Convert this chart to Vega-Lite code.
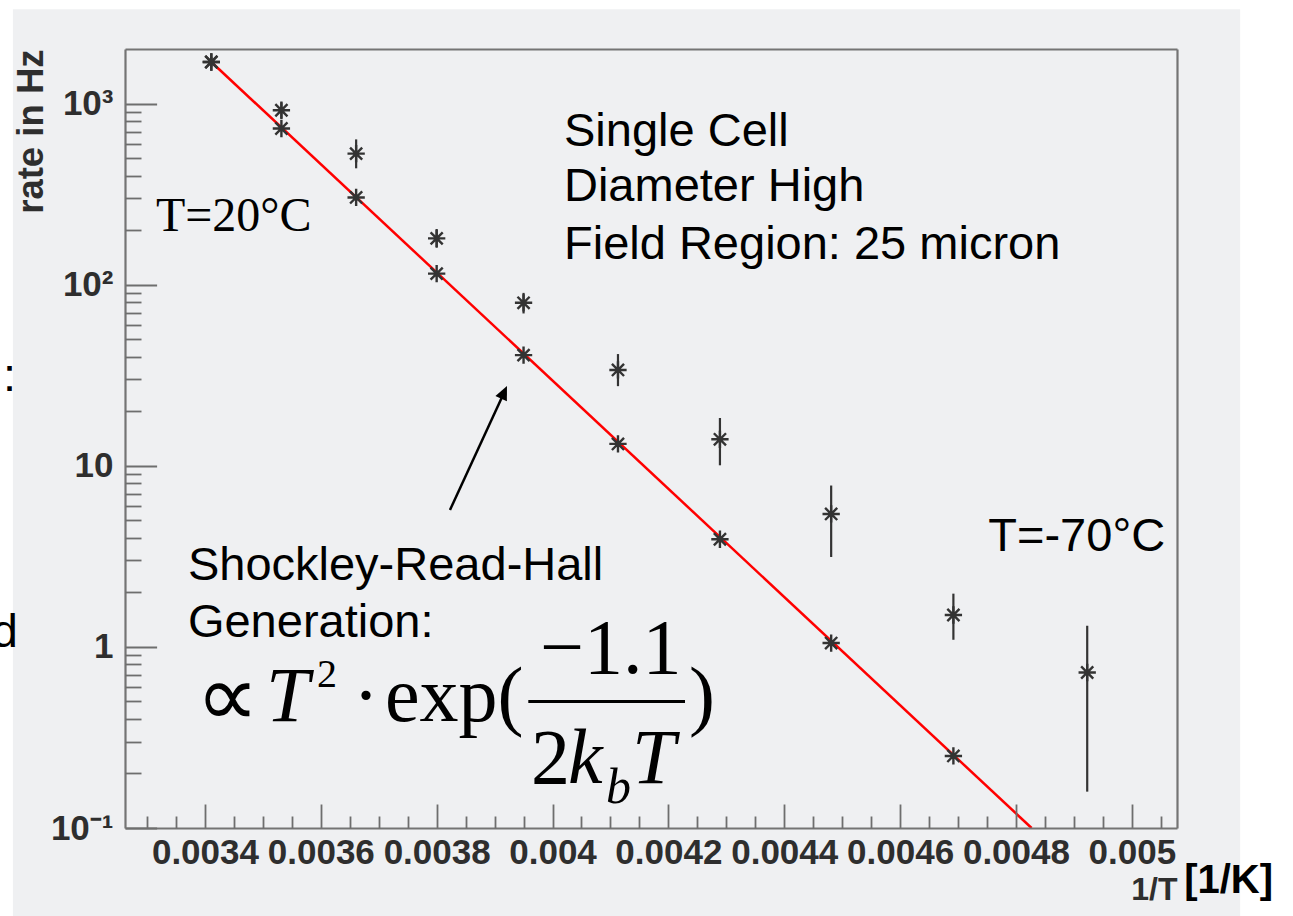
{
  "$schema": "https://vega.github.io/schema/vega-lite/v6.json",
  "width": 1052,
  "height": 779,
  "autosize": {"type": "none"},
  "padding": {"left": 125, "top": 49, "right": 116, "bottom": 88},
  "background": "#eff0f2",
  "config": {
    "view": {"stroke": null},
    "axis": {
      "zindex": 1, "grid": false,
      "domainColor": "#747474", "domainWidth": 2.2,
      "tickColor": "#6e6e6e", "tickWidth": 1.8,
      "labelFont": "Liberation Sans", "labelFontWeight": "bold", "labelFontSize": 35, "labelColor": "#2e2e2e",
      "titleFont": "Liberation Sans", "titleFontWeight": "bold", "titleFontSize": 36.5, "titleColor": "#2e2e2e",
      "labelFlush": false, "labelOverlap": false, "labelBound": false
    }
  },
  "datasets": {
    "pts": [
      {"invT": 0.003411, "rate": 1696, "set": "low"},
      {"invT": 0.003532, "rate": 728, "set": "low"},
      {"invT": 0.003661, "rate": 303, "set": "low"},
      {"invT": 0.0038, "rate": 115, "set": "low"},
      {"invT": 0.00395, "rate": 40.8, "set": "low"},
      {"invT": 0.004113, "rate": 13.2, "set": "low"},
      {"invT": 0.004289, "rate": 3.93, "set": "low"},
      {"invT": 0.004481, "rate": 1.05, "set": "low"},
      {"invT": 0.004692, "rate": 0.25, "set": "low"},
      {"invT": 0.003411, "rate": 1696, "lo": 1620, "hi": 1780, "set": "high"},
      {"invT": 0.003532, "rate": 918, "lo": 840, "hi": 1000, "set": "high"},
      {"invT": 0.003661, "rate": 529, "lo": 445, "hi": 625, "set": "high"},
      {"invT": 0.0038, "rate": 180, "lo": 162, "hi": 200, "set": "high"},
      {"invT": 0.00395, "rate": 79.4, "lo": 70.3, "hi": 88.8, "set": "high"},
      {"invT": 0.004113, "rate": 33.8, "lo": 27.9, "hi": 40.8, "set": "high"},
      {"invT": 0.004289, "rate": 14.0, "lo": 10.2, "hi": 18.1, "set": "high"},
      {"invT": 0.004481, "rate": 5.42, "lo": 3.18, "hi": 7.67, "set": "high"},
      {"invT": 0.004692, "rate": 1.5, "lo": 1.11, "hi": 1.94, "set": "high"},
      {"invT": 0.004923, "rate": 0.722, "lo": 0.161, "hi": 1.29, "set": "high"}
    ],
    "fit": [
      {"invT": 0.003411, "rate": 1696},
      {"invT": 0.004827, "rate": 0.1}
    ],
    "sans_left": [
      {"invT": 0.0040198, "rate": 583.6, "text": "Single Cell"},
      {"invT": 0.0040198, "rate": 290.9, "text": "Diameter High"},
      {"invT": 0.0040198, "rate": 137.8, "text": "Field Region: 25 micron"},
      {"invT": 0.0033706, "rate": 2.344, "text": "Shockley-Read-Hall"},
      {"invT": 0.0033706, "rate": 1.129, "text": "Generation:"},
      {"invT": 0.0030512, "rate": 25.86, "text": ":"}
    ],
    "sans_right": [
      {"invT": 0.0050575, "rate": 3.388, "text": "T=-70°C"},
      {"invT": 0.0030771, "rate": 1.0, "text": "d"}
    ],
    "serif_main": [
      {"invT": 0.0037108, "rate": 0.388, "text": "exp("},
      {"invT": 0.0036555, "rate": 0.388, "text": "·"},
      {"invT": 0.0039784, "rate": 0.7165, "text": "−1.1"},
      {"invT": 0.0039629, "rate": 0.1778, "text": "2"},
      {"invT": 0.0042357, "rate": 0.388, "text": ")"}
    ],
    "serif_italic": [
      {"invT": 0.0035053, "rate": 0.388, "text": "T"},
      {"invT": 0.0040267, "rate": 0.1778, "text": "k"},
      {"invT": 0.0041372, "rate": 0.1778, "text": "T"}
    ]
  },
  "resolve": {"axis": {"x": "independent", "y": "independent"}},
  "layer": [
    {
      "data": {"values": [{}]},
      "mark": {"type": "rect", "fill": "white", "clip": false},
      "encoding": {
        "x": {"datum": 0.0030374, "type": "quantitative", "scale": {"domain": [0.003262, 0.005078], "nice": false, "zero": false}, "axis": null},
        "x2": {"datum": 0.0030685},
        "y": {"datum": 0.02, "type": "quantitative", "scale": {"type": "log", "domain": [0.1, 2000], "nice": false}, "axis": null},
        "y2": {"datum": 5000}
      }
    },
    {
      "data": {"values": [{}]},
      "mark": {"type": "rect", "fill": "white", "clip": false},
      "encoding": {
        "x": {"datum": 0.0030374, "type": "quantitative", "scale": {"domain": [0.003262, 0.005078], "nice": false, "zero": false}, "axis": null},
        "x2": {"datum": 0.0053},
        "y": {"datum": 3314, "type": "quantitative", "scale": {"type": "log", "domain": [0.1, 2000], "nice": false}, "axis": null},
        "y2": {"datum": 5000}
      }
    },
    {
      "data": {"values": [{}]},
      "mark": {"type": "rect", "fill": "white", "clip": false},
      "encoding": {
        "x": {"datum": 0.005187, "type": "quantitative", "scale": {"domain": [0.003262, 0.005078], "nice": false, "zero": false}, "axis": null},
        "x2": {"datum": 0.0053},
        "y": {"datum": 0.02, "type": "quantitative", "scale": {"type": "log", "domain": [0.1, 2000], "nice": false}, "axis": null},
        "y2": {"datum": 5000}
      }
    },
    {
      "data": {"name": "pts"},
      "transform": [{"filter": "datum.set === 'high'"}],
      "mark": {"type": "rule", "color": "#333333", "strokeWidth": 2.2, "strokeCap": "square"},
      "encoding": {
        "x": {"field": "invT", "type": "quantitative", "scale": {"domain": [0.003262, 0.005078], "nice": false, "zero": false}, "axis": null},
        "y": {"field": "lo", "type": "quantitative", "scale": {"type": "log", "domain": [0.1, 2000], "nice": false}, "axis": null},
        "y2": {"field": "hi"}
      }
    },
    {
      "data": {"name": "fit"},
      "mark": {"type": "line", "color": "#ff0000", "strokeWidth": 2.5},
      "encoding": {
        "x": {"field": "invT", "type": "quantitative", "scale": {"domain": [0.003262, 0.005078], "nice": false, "zero": false},
              "axis": {"orient": "top", "ticks": false, "labels": false, "domain": true, "title": null, "zindex": 1}},
        "y": {"field": "rate", "type": "quantitative", "scale": {"type": "log", "domain": [0.1, 2000], "nice": false},
              "axis": {"orient": "right", "ticks": false, "labels": false, "domain": true, "title": null, "zindex": 1}}
      }
    },
    {
      "data": {"name": "pts"},
      "transform": [{"filter": "datum.set === 'low'"}],
      "mark": {"type": "point", "shape": "M-1,0L1,0M0,-1L0,1M-0.7,-0.7L0.7,0.7M-0.7,0.7L0.7,-0.7", "filled": false, "stroke": "#333333", "strokeWidth": 2.4, "size": 300, "opacity": 1},
      "encoding": {
        "x": {"field": "invT", "type": "quantitative", "scale": {"domain": [0.003262, 0.005078], "nice": false, "zero": false},
              "axis": {"orient": "bottom", "zindex": 1, "values": [0.0034, 0.0036, 0.0038, 0.004, 0.0042, 0.0044, 0.0046, 0.0048, 0.005], "format": ".4~f", "tickSize": -24, "labelPadding": 31, "title": "1/T", "titleAnchor": "end", "titleAlign": "right", "titleFontSize": 32, "titlePadding": 4}},
        "y": {"field": "rate", "type": "quantitative", "scale": {"type": "log", "domain": [0.1, 2000], "nice": false},
              "axis": {"orient": "left", "zindex": 1, "values": [0.1, 1, 10, 100, 1000], "labelExpr": "datum.value >= 999 ? '10³' : datum.value >= 99 ? '10²' : datum.value >= 9 ? '10' : datum.value >= 0.9 ? '1' : '10⁻¹'", "tickSize": -31.6, "labelPadding": 43.6, "title": "rate in Hz", "titleAnchor": "end", "titlePadding": 0}}
      }
    },
    {
      "data": {"name": "pts"},
      "transform": [{"filter": "datum.set === 'high'"}],
      "mark": {"type": "point", "shape": "M-1,0L1,0M0,-1L0,1M-0.7,-0.7L0.7,0.7M-0.7,0.7L0.7,-0.7", "filled": false, "stroke": "#333333", "strokeWidth": 2.4, "size": 300, "opacity": 1},
      "encoding": {
        "x": {"field": "invT", "type": "quantitative", "scale": {"domain": [0.003262, 0.005078], "nice": false, "zero": false},
              "axis": {"orient": "bottom", "zindex": 1, "values": [0.0033, 0.00335, 0.00345, 0.0035, 0.00355, 0.00365, 0.0037, 0.00375, 0.00385, 0.0039, 0.00395, 0.00405, 0.0041, 0.00415, 0.00425, 0.0043, 0.00435, 0.00445, 0.0045, 0.00455, 0.00465, 0.0047, 0.00475, 0.00485, 0.0049, 0.00495, 0.00505], "tickSize": -12, "labels": false, "domain": false, "title": null}},
        "y": {"field": "rate", "type": "quantitative", "scale": {"type": "log", "domain": [0.1, 2000], "nice": false},
              "axis": {"orient": "left", "zindex": 1, "values": [0.2, 0.3, 0.4, 0.5, 0.6, 0.7, 0.8, 0.9, 2, 3, 4, 5, 6, 7, 8, 9, 20, 30, 40, 50, 60, 70, 80, 90, 200, 300, 400, 500, 600, 700, 800, 900], "tickSize": -16, "labels": false, "domain": false, "title": null}}
      }
    },
    {
      "data": {"name": "sans_left"},
      "mark": {"type": "text", "font": "Liberation Sans", "fontSize": 47, "align": "left", "baseline": "alphabetic", "color": "black", "clip": false},
      "encoding": {
        "x": {"field": "invT", "type": "quantitative", "scale": {"domain": [0.003262, 0.005078], "nice": false, "zero": false}, "axis": null},
        "y": {"field": "rate", "type": "quantitative", "scale": {"type": "log", "domain": [0.1, 2000], "nice": false}, "axis": null},
        "text": {"field": "text"}
      }
    },
    {
      "data": {"name": "sans_right"},
      "mark": {"type": "text", "font": "Liberation Sans", "fontSize": 47, "align": "right", "baseline": "alphabetic", "color": "black", "clip": false},
      "encoding": {
        "x": {"field": "invT", "type": "quantitative", "scale": {"domain": [0.003262, 0.005078], "nice": false, "zero": false}, "axis": null},
        "y": {"field": "rate", "type": "quantitative", "scale": {"type": "log", "domain": [0.1, 2000], "nice": false}, "axis": null},
        "text": {"field": "text"}
      }
    },
    {
      "data": {"values": [{"invT": 0.0033154, "rate": 197.4, "text": "T=20°C"}]},
      "mark": {"type": "text", "font": "Liberation Serif", "fontSize": 48, "align": "left", "baseline": "alphabetic", "color": "black"},
      "encoding": {
        "x": {"field": "invT", "type": "quantitative", "scale": {"domain": [0.003262, 0.005078], "nice": false, "zero": false}, "axis": null},
        "y": {"field": "rate", "type": "quantitative", "scale": {"type": "log", "domain": [0.1, 2000], "nice": false}, "axis": null},
        "text": {"field": "text"}
      }
    },
    {
      "data": {"values": [{"invT": 0.0050903, "rate": 0.04368, "text": "[1/K]"}]},
      "mark": {"type": "text", "font": "Liberation Sans", "fontWeight": "bold", "fontSize": 40, "align": "left", "baseline": "alphabetic", "color": "black", "clip": false},
      "encoding": {
        "x": {"field": "invT", "type": "quantitative", "scale": {"domain": [0.003262, 0.005078], "nice": false, "zero": false}, "axis": null},
        "y": {"field": "rate", "type": "quantitative", "scale": {"type": "log", "domain": [0.1, 2000], "nice": false}, "axis": null},
        "text": {"field": "text"}
      }
    },
    {
      "data": {"name": "serif_main"},
      "mark": {"type": "text", "font": "Liberation Serif", "fontSize": 78, "align": "left", "baseline": "alphabetic", "color": "black"},
      "encoding": {
        "x": {"field": "invT", "type": "quantitative", "scale": {"domain": [0.003262, 0.005078], "nice": false, "zero": false}, "axis": null},
        "y": {"field": "rate", "type": "quantitative", "scale": {"type": "log", "domain": [0.1, 2000], "nice": false}, "axis": null},
        "text": {"field": "text"}
      }
    },
    {
      "data": {"name": "serif_italic"},
      "mark": {"type": "text", "font": "Liberation Serif", "fontStyle": "italic", "fontSize": 78, "align": "left", "baseline": "alphabetic", "color": "black"},
      "encoding": {
        "x": {"field": "invT", "type": "quantitative", "scale": {"domain": [0.003262, 0.005078], "nice": false, "zero": false}, "axis": null},
        "y": {"field": "rate", "type": "quantitative", "scale": {"type": "log", "domain": [0.1, 2000], "nice": false}, "axis": null},
        "text": {"field": "text"}
      }
    },
    {
      "data": {"values": [{"invT": 0.0035934, "rate": 0.6042, "text": "2"}]},
      "mark": {"type": "text", "font": "Liberation Serif", "fontSize": 40, "align": "left", "baseline": "alphabetic", "color": "black"},
      "encoding": {
        "x": {"field": "invT", "type": "quantitative", "scale": {"domain": [0.003262, 0.005078], "nice": false, "zero": false}, "axis": null},
        "y": {"field": "rate", "type": "quantitative", "scale": {"type": "log", "domain": [0.1, 2000], "nice": false}, "axis": null},
        "text": {"field": "text"}
      }
    },
    {
      "data": {"values": [{"invT": 0.0040923, "rate": 0.1379, "text": "b"}]},
      "mark": {"type": "text", "font": "Liberation Serif", "fontStyle": "italic", "fontSize": 50, "align": "left", "baseline": "alphabetic", "color": "black"},
      "encoding": {
        "x": {"field": "invT", "type": "quantitative", "scale": {"domain": [0.003262, 0.005078], "nice": false, "zero": false}, "axis": null},
        "y": {"field": "rate", "type": "quantitative", "scale": {"type": "log", "domain": [0.1, 2000], "nice": false}, "axis": null},
        "text": {"field": "text"}
      }
    },
    {
      "data": {"values": [{"invT": 0.0034397, "rate": 0.5104, "text": "∝"}]},
      "mark": {"type": "text", "font": "DejaVu Sans", "fontWeight": 200, "fontSize": 88, "align": "center", "baseline": "middle", "color": "black"},
      "encoding": {
        "x": {"field": "invT", "type": "quantitative", "scale": {"domain": [0.003262, 0.005078], "nice": false, "zero": false}, "axis": null},
        "y": {"field": "rate", "type": "quantitative", "scale": {"type": "log", "domain": [0.1, 2000], "nice": false}, "axis": null},
        "text": {"field": "text"}
      }
    },
    {
      "data": {"values": [{"x1": 0.0039582, "x2": 0.0042287, "r": 0.4994}]},
      "mark": {"type": "rule", "color": "black", "strokeWidth": 3},
      "encoding": {
        "x": {"field": "x1", "type": "quantitative", "scale": {"domain": [0.003262, 0.005078], "nice": false, "zero": false}, "axis": null},
        "x2": {"field": "x2"},
        "y": {"field": "r", "type": "quantitative", "scale": {"type": "log", "domain": [0.1, 2000], "nice": false}, "axis": null}
      }
    },
    {
      "data": {"values": [{"x1": 0.003823, "y1": 5.703, "x2": 0.0039145, "y2": 24.58}]},
      "mark": {"type": "rule", "color": "black", "strokeWidth": 2.5},
      "encoding": {
        "x": {"field": "x1", "type": "quantitative", "scale": {"domain": [0.003262, 0.005078], "nice": false, "zero": false}, "axis": null},
        "x2": {"field": "x2"},
        "y": {"field": "y1", "type": "quantitative", "scale": {"type": "log", "domain": [0.1, 2000], "nice": false}, "axis": null},
        "y2": {"field": "y2"}
      }
    },
    {
      "data": {"values": [{"invT": 0.0039214, "rate": 27.56}]},
      "mark": {"type": "point", "shape": "M0,0L0.45,1L-0.45,1Z", "filled": true, "color": "black", "size": 784, "angle": 24.7, "opacity": 1},
      "encoding": {
        "x": {"field": "invT", "type": "quantitative", "scale": {"domain": [0.003262, 0.005078], "nice": false, "zero": false}, "axis": null},
        "y": {"field": "rate", "type": "quantitative", "scale": {"type": "log", "domain": [0.1, 2000], "nice": false}, "axis": null}
      }
    }
  ]
}
